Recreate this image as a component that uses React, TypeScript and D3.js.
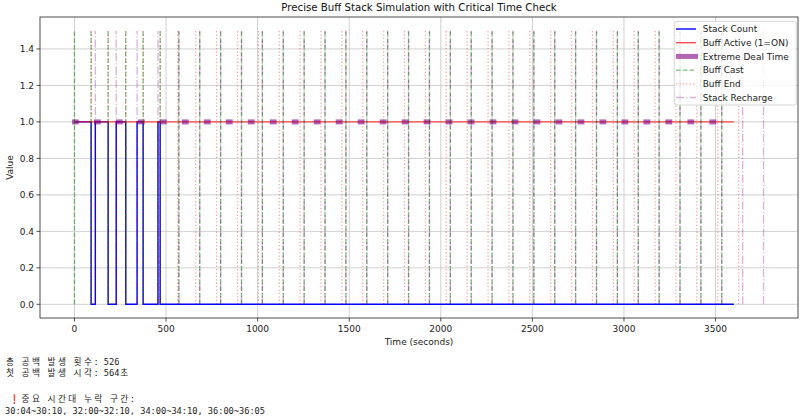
import React from "react";
import * as d3 from "d3";

// ---------------- data ----------------
const stackTimes = [0, 91, 114, 184, 228, 280, 342, 375, 456, 468, 3600];
const stackValues = [1, 0, 1, 0, 1, 0, 1, 0, 1, 0, 0];
const buffActiveTimes = [0, 3600];
const buffActiveValues = [1, 1];
const extremeStarts = [
  0, 120, 240, 360, 480, 600, 720, 840, 960, 1080, 1200, 1320, 1440, 1560, 1680,
  1800, 1920, 2040, 2160, 2280, 2400, 2520, 2640, 2760, 2880, 3000, 3120, 3240, 3360, 3480,
];
const extremeDuration = 10;
const castTimes = [
  0, 91, 184, 280, 375, 468, 570, 684, 798, 912, 1026, 1140, 1254, 1368, 1482, 1596, 1710,
  1824, 1938, 2052, 2166, 2280, 2394, 2508, 2622, 2736, 2850, 2964, 3078, 3192, 3306, 3420, 3534,
];
const endTimes = [
  91, 184, 280, 375, 468, 564, 662, 776, 890, 1004, 1118, 1232, 1346, 1460, 1574, 1688, 1802,
  1916, 2030, 2144, 2258, 2372, 2486, 2600, 2714, 2828, 2942, 3056, 3170, 3284, 3398, 3512, 3626,
];
const rechargeTimes = [
  114, 228, 342, 456, 570, 684, 798, 912, 1026, 1140, 1254, 1368, 1482, 1596, 1710, 1824, 1938,
  2052, 2166, 2280, 2394, 2508, 2622, 2736, 2850, 2964, 3078, 3192, 3306, 3420, 3534, 3648, 3762,
];
const vlineTop = 1.5;
const xTicks = [0, 500, 1000, 1500, 2000, 2500, 3000, 3500];
const yTicks = [0, 0.2, 0.4, 0.6, 0.8, 1.0, 1.2, 1.4];
const title = "Precise Buff Stack Simulation with Critical Time Check";
const xLabel = "Time (seconds)";
const yLabel = "Value";
const legendLabels = [
  "Stack Count",
  "Buff Active (1=ON)",
  "Extreme Deal Time",
  "Buff Cast",
  "Buff End",
  "Stack Recharge",
];
const infoLines = ["총 공백 발생 횟수: 526", "첫 공백 발생 시각: 564초"];
const missingIcon = "❗";
const missingHeader = "중요 시간대 누락 구간:";
const missingRanges = ["30:04~30:10", "32:00~32:10", "34:00~34:10", "36:00~36:05"];

// ---------------- layout ----------------
const W = 800;
const H = 417;
const L = 40;
const R = 798;
const T = 17;
const B = 318;
const FONT = "'DejaVu Sans', sans-serif";
const MONO = "'DejaVu Sans Mono', 'Noto Sans CJK KR', monospace";
const CELL = 5.2;

const allT = [...stackTimes, ...buffActiveTimes, ...castTimes, ...endTimes, ...rechargeTimes];
const xMin = d3.min(allT) as number;
const xMax = d3.max(allT) as number;
const xPad = (xMax - xMin) * 0.05;
const x = d3.scaleLinear().domain([xMin - xPad, xMax + xPad]).range([L, R]);
const yPad = (vlineTop - 0) * 0.05;
const y = d3.scaleLinear().domain([0 - yPad, vlineTop + yPad]).range([B, T]);

const stepLine = d3
  .line<[number, number]>()
  .x((d) => x(d[0]))
  .y((d) => y(d[1]))
  .curve(d3.curveStepAfter);

const isWide = (ch: string) => (ch.codePointAt(0) as number) > 0x1100;
function cellXs(str: string, startCell: number, x0 = 5) {
  const xs: number[] = [];
  let c = startCell;
  for (const ch of Array.from(str)) {
    const w = isWide(ch) ? 2 : 1;
    xs.push(x0 + c * CELL + (w === 2 ? 0.9 : 0));
    c += w;
  }
  return xs.map((v) => v.toFixed(2)).join(" ");
}

const GREEN = { stroke: "green", opacity: 0.5, dash: "4.7 2" };
const REDDOT = { stroke: "red", opacity: 0.35, dash: "1.3 2.1" };
const VIOLET = { stroke: "purple", opacity: 0.3, dash: "8.2 2 1.3 2" };

export default function App() {
  const stackPts = stackTimes.map((t, i) => [t, stackValues[i]] as [number, number]);
  const activePts = buffActiveTimes.map((t, i) => [t, buffActiveValues[i]] as [number, number]);

  const vlines = (times: number[], st: typeof GREEN, key: string) =>
    times.map((t, i) => (
      <line
        key={key + i}
        x1={x(t)}
        x2={x(t)}
        y1={y(0)}
        y2={y(vlineTop)}
        stroke={st.stroke}
        strokeOpacity={st.opacity}
        strokeWidth={1.3}
        strokeDasharray={st.dash}
      />
    ));

  const legY0 = 29;
  const legStep = 13.7;
  const hx1 = 676;
  const hx2 = 696;

  return (
    <svg
      width={W}
      height={H}
      style={{ position: "absolute", left: 0, top: 0, background: "white" }}
      fontFamily={FONT}
    >
      <rect x={0} y={0} width={W} height={H} fill="white" />
      {/* grid */}
      <g stroke="#cbcbcb" strokeWidth={0.9}>
        {xTicks.map((t) => (
          <line key={"gx" + t} x1={x(t)} x2={x(t)} y1={T} y2={B} />
        ))}
        {yTicks.map((t) => (
          <line key={"gy" + t} x1={L} x2={R} y1={y(t)} y2={y(t)} />
        ))}
      </g>
      <defs>
        <clipPath id="plotclip">
          <rect x={L} y={T} width={R - L} height={B - T} />
        </clipPath>
      </defs>
      <g clipPath="url(#plotclip)">
        <path d={stepLine(stackPts) as string} fill="none" stroke="blue" strokeWidth={1.4} />
        <path
          d={stepLine(activePts) as string}
          fill="none"
          stroke="red"
          strokeOpacity={0.7}
          strokeWidth={1.4}
        />
        {extremeStarts.map((s, i) => (
          <line
            key={"ex" + i}
            x1={x(s)}
            x2={x(s + extremeDuration)}
            y1={y(1)}
            y2={y(1)}
            stroke="purple"
            strokeOpacity={0.6}
            strokeWidth={5}
            strokeLinecap="square"
          />
        ))}
        {vlines(castTimes, GREEN, "c")}
        {vlines(endTimes, REDDOT, "e")}
        {vlines(rechargeTimes, VIOLET, "r")}
      </g>
      {/* spines */}
      <rect x={L} y={T} width={R - L} height={B - T} fill="none" stroke="#222" strokeWidth={0.8} />
      {/* x ticks */}
      {xTicks.map((t) => (
        <g key={"xt" + t}>
          <line x1={x(t)} x2={x(t)} y1={B} y2={B + 3.5} stroke="#222" strokeWidth={0.8} />
          <text x={x(t)} y={332} fontSize={9} textAnchor="middle" fill="#222">
            {t}
          </text>
        </g>
      ))}
      {/* y ticks */}
      {yTicks.map((t) => (
        <g key={"yt" + t}>
          <line x1={L - 3.5} x2={L} y1={y(t)} y2={y(t)} stroke="#222" strokeWidth={0.8} />
          <text x={L - 6} y={y(t) + 3.3} fontSize={9} textAnchor="end" fill="#222">
            {t.toFixed(1)}
          </text>
        </g>
      ))}
      <text x={(L + R) / 2} y={11} fontSize={10.2} textAnchor="middle" fill="#111">
        {title}
      </text>
      <text x={(L + R) / 2} y={345} fontSize={9} textAnchor="middle" fill="#222">
        {xLabel}
      </text>
      <text
        transform={`translate(13,${(T + B) / 2}) rotate(-90)`}
        fontSize={9}
        textAnchor="middle"
        fill="#222"
      >
        {yLabel}
      </text>
      {/* legend */}
      <g>
        <rect
          x={674.3}
          y={21.3}
          width={122}
          height={83.7}
          rx={2}
          fill="white"
          fillOpacity={0.8}
          stroke="#cccccc"
          strokeWidth={0.8}
        />
        <line x1={hx1} x2={hx2} y1={legY0} y2={legY0} stroke="blue" strokeWidth={1.4} />
        <line
          x1={hx1}
          x2={hx2}
          y1={legY0 + legStep}
          y2={legY0 + legStep}
          stroke="red"
          strokeOpacity={0.7}
          strokeWidth={1.4}
        />
        <line
          x1={hx1 + 2.5}
          x2={hx2 - 0.5}
          y1={legY0 + legStep * 2}
          y2={legY0 + legStep * 2}
          stroke="purple"
          strokeOpacity={0.6}
          strokeWidth={5}
          strokeLinecap="square"
        />
        {[GREEN, REDDOT, VIOLET].map((st, i) => (
          <line
            key={"lh" + i}
            x1={hx1}
            x2={hx2}
            y1={legY0 + legStep * (3 + i)}
            y2={legY0 + legStep * (3 + i)}
            stroke={st.stroke}
            strokeOpacity={st.opacity}
            strokeWidth={1.3}
            strokeDasharray={st.dash}
          />
        ))}
        {legendLabels.map((lab, i) => (
          <text key={"lt" + i} x={702.7} y={legY0 + legStep * i + 3.3} fontSize={9} fill="#222">
            {lab}
          </text>
        ))}
      </g>
      {/* printed output below */}
      <g fontFamily={MONO} fontSize={8.7} fill="#222">
        {infoLines.map((s, i) => (
          <text key={"info" + i} x={cellXs(s, 0)} y={365 + i * 11}>
            {s}
          </text>
        ))}
        <text x={8.5} y={402} fill="#e0303a" fontFamily={FONT} fontWeight="bold">
          {missingIcon}
        </text>
        <text x={cellXs(missingHeader, 3)} y={402}>
          {missingHeader}
        </text>
        <text x={cellXs(missingRanges.join(", "), 0)} y={414}>
          {missingRanges.join(", ")}
        </text>
      </g>
    </svg>
  );
}
